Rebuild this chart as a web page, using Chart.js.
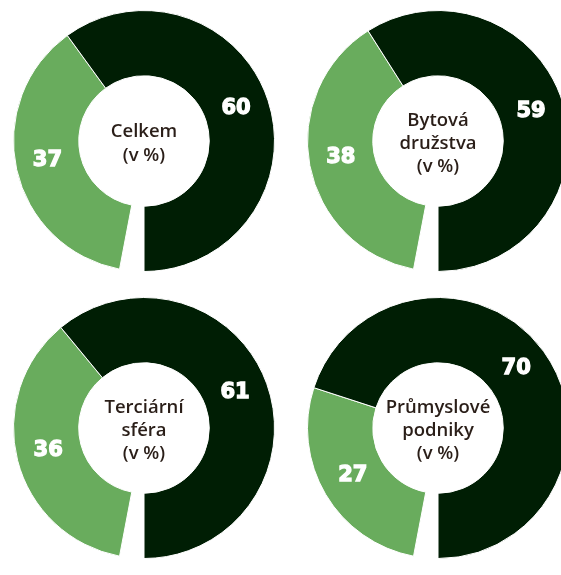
<!DOCTYPE html>
<html>
<head>
<meta charset="utf-8">
<script src="https://cdn.jsdelivr.net/npm/chart.js@4.4.1/dist/chart.umd.min.js"></script>
<style>
  html, body { margin: 0; padding: 0; background: #fff; overflow: hidden; }
  #wrap { position: relative; width: 561px; height: 575px; overflow: hidden; }
  .box { position: absolute; width: 262px; height: 262px; }
</style>
</head>
<body>
<div id="wrap">
  <div class="box" style="left:13px; top:10px;"><canvas id="c0"></canvas></div>
  <div class="box" style="left:307px; top:10px;"><canvas id="c1"></canvas></div>
  <div class="box" style="left:13px; top:297px;"><canvas id="c2"></canvas></div>
  <div class="box" style="left:307px; top:297px;"><canvas id="c3"></canvas></div>
</div>
<script>
'use strict';

// chart data
const categories = [
  ['Celkem', '(v %)'],
  ['Bytová', 'družstva', '(v %)'],
  ['Terciární', 'sféra', '(v %)'],
  ['Průmyslové', 'podniky', '(v %)']
];
const darkValues = [60, 59, 61, 70];
const lightValues = [37, 38, 36, 27];

const darkColor = '#001e04';
const lightColor = '#69ac5d';
const textColor = '#2a1e18';

// white numbers in the middle of each ring segment
const valueLabels = {
  id: 'valueLabels',
  afterDatasetsDraw(chart) {
    const ctx = chart.ctx;
    const meta = chart.getDatasetMeta(0);
    const data = chart.data.datasets[0].data;
    ctx.save();
    ctx.fillStyle = '#ffffff';
    ctx.strokeStyle = '#ffffff';
    ctx.lineWidth = 1.3;
    ctx.lineJoin = 'miter';
    ctx.font = 'bold 21px "DejaVu Sans"';
    ctx.textAlign = 'center';
    ctx.textBaseline = 'middle';
    meta.data.forEach((arc, i) => {
      if (i === 0) return; // gap segment
      const pos = arc.tooltipPosition();
      ctx.strokeText(String(data[i]), pos.x - 1, pos.y - 2);
      ctx.fillText(String(data[i]), pos.x - 1, pos.y - 2);
    });
    ctx.restore();
  }
};

// category name in the hole
const centerText = {
  id: 'centerText',
  afterDraw(chart) {
    const ctx = chart.ctx;
    const arc = chart.getDatasetMeta(0).data[0];
    const lines = chart.options.plugins.centerText.lines;
    const lh = lines.length > 2 ? 23 : 24;
    ctx.save();
    ctx.fillStyle = textColor;
    ctx.font = '600 18.5px "Open Sans"';
    ctx.textAlign = 'center';
    ctx.textBaseline = 'alphabetic';
    let y = arc.y - (lines.length - 1) * lh / 2 + 8;
    lines.forEach(line => {
      ctx.fillText(line, arc.x, y);
      y += lh;
    });
    ctx.restore();
  }
};

function drawDonut(idx) {
  const rest = 100 - darkValues[idx] - lightValues[idx];
  return new Chart(document.getElementById('c' + idx), {
    type: 'doughnut',
    data: {
      labels: ['', 'light', 'dark'],
      datasets: [{
        data: [rest, lightValues[idx], darkValues[idx]],
        backgroundColor: ['rgba(255,255,255,0)', lightColor, darkColor],
        borderColor: '#ffffff',
        borderWidth: 1
      }]
    },
    options: {
      responsive: true,
      maintainAspectRatio: false,
      animation: false,
      rotation: 180,
      cutout: '50%',
      layout: { padding: 0 },
      plugins: {
        legend: { display: false },
        tooltip: { enabled: false },
        centerText: { lines: categories[idx] }
      }
    },
    plugins: [valueLabels, centerText]
  });
}

document.fonts.load('600 18.5px "Open Sans"').then(() => {
  categories.forEach((c, i) => drawDonut(i));
});
</script>
</body>
</html>
